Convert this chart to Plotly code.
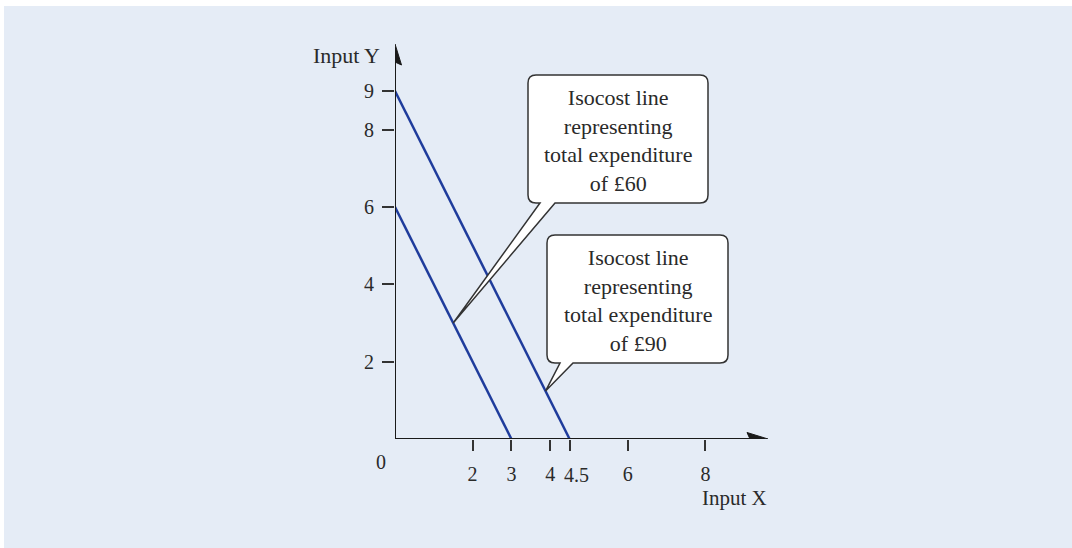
import plotly.graph_objects as go

# ---------------- data ----------------
budget_labels = ["£60", "£90"]
x_intercepts = [3, 4.5]          # Input X when all money spent on X
y_intercepts = [6, 9]            # Input Y when all money spent on Y
x_ticks = [2, 3, 4, 4.5, 6, 8]
x_tick_labels = ["2", "3", "4", "4.5", "6", "8"]
y_ticks = [2, 4, 6, 8, 9]
y_tick_labels = ["2", "4", "6", "8", "9"]
callout_texts = [
    "Isocost line<br>representing<br>total expenditure<br>of £60",
    "Isocost line<br>representing<br>total expenditure<br>of £90",
]
callout_tip_x = [1.5, 3.88]
callout_tip_y = [3.0, 1.24]

# ---------------- layout geometry ----------------
W, H = 1072, 548
ML, MR, MT, MB = 395, 289, 33, 109
XR = [0, 10]
YR = [0, 10.5]
PW = W - ML - MR
PH = H - MT - MB


def dx(px):
    return XR[0] + (px - ML) / PW * (XR[1] - XR[0])


def dy(py):
    return YR[0] + (H - MB - py) / PH * (YR[1] - YR[0])


def ppx(px):
    return (px - ML) / PW


def ppy(py):
    return (H - MB - py) / PH


LINE_COLOR = "#1f3c9c"
TEXT_COLOR = "#2a2a2a"
AXIS_COLOR = "#1a1a1a"
FONT = "Liberation Serif"

fig = go.Figure()

for xi, yi, lab in zip(x_intercepts, y_intercepts, budget_labels):
    fig.add_trace(go.Scatter(
        x=[0, xi], y=[yi, 0], mode="lines", name=lab,
        line=dict(color=LINE_COLOR, width=2.5),
        cliponaxis=False, hoverinfo="skip", showlegend=False,
    ))

shapes = []
# background panel
shapes.append(dict(type="rect", xref="paper", yref="paper",
                   x0=ppx(4), x1=ppx(1072), y0=ppy(548), y1=ppy(6),
                   fillcolor="#E5ECF6", line=dict(width=0), layer="below"))

# axes lines
shapes.append(dict(type="line", xref="x", yref="y", x0=0, y0=0, x1=dx(752), y1=0,
                   line=dict(color=AXIS_COLOR, width=2), layer="above"))
shapes.append(dict(type="line", xref="x", yref="y", x0=0, y0=0, x1=0, y1=dy(60),
                   line=dict(color=AXIS_COLOR, width=2), layer="above"))
# arrowheads
ax_path = (f"M{dx(768)},{dy(439)} L{dx(747)},{dy(432.5)} L{dx(750)},{dy(439)} "
           f"L{dx(747)},{dy(445.5)} Z")
ay_path = (f"M{dx(395)},{dy(44)} L{dx(388.5)},{dy(65)} L{dx(395)},{dy(62)} "
           f"L{dx(401.5)},{dy(65)} Z")
for p in (ax_path, ay_path):
    shapes.append(dict(type="path", xref="x", yref="y", path=p,
                       fillcolor=AXIS_COLOR, line=dict(color=AXIS_COLOR, width=1),
                       layer="above"))


def callout_path(x0, y0, x1, y1, b0, b1, tipx, tipy, r=8):
    return (
        f"M{dx(x0 + r)},{dy(y0)} L{dx(x1 - r)},{dy(y0)} "
        f"Q{dx(x1)},{dy(y0)} {dx(x1)},{dy(y0 + r)} "
        f"L{dx(x1)},{dy(y1 - r)} Q{dx(x1)},{dy(y1)} {dx(x1 - r)},{dy(y1)} "
        f"L{dx(b1)},{dy(y1)} L{tipx},{tipy} L{dx(b0)},{dy(y1)} "
        f"L{dx(x0 + r)},{dy(y1)} Q{dx(x0)},{dy(y1)} {dx(x0)},{dy(y1 - r)} "
        f"L{dx(x0)},{dy(y0 + r)} Q{dx(x0)},{dy(y0)} {dx(x0 + r)},{dy(y0)} Z"
    )


boxes = [
    (528, 75, 708, 203, 540, 555),
    (547, 235, 728, 363, 560, 573),
]

annotations = []
for (x0, y0, x1, y1, b0, b1), tx, ty, txt in zip(boxes, callout_tip_x, callout_tip_y, callout_texts):
    shapes.append(dict(type="path", xref="x", yref="y",
                       path=callout_path(x0, y0, x1, y1, b0, b1, tx, ty),
                       fillcolor="white", line=dict(color="#333333", width=1.5),
                       layer="above"))
    annotations.append(dict(
        x=ppx((x0 + x1) / 2), y=ppy((y0 + y1) / 2 + 1), xref="paper", yref="paper",
        text=txt, showarrow=False, xanchor="center", yanchor="middle",
        align="center", font=dict(family=FONT, size=22, color=TEXT_COLOR),
    ))

# the "4.5" tick label sits a little to the right of its tick in the original
shown_ticktext = [t if v != 4.5 else "" for v, t in zip(x_ticks, x_tick_labels)]
for v, t in zip(x_ticks, x_tick_labels):
    if v == 4.5:
        annotations.append(dict(
            x=v, y=ppy(475), xref="x", yref="paper", text=t, showarrow=False,
            xanchor="center", yanchor="middle", xshift=7,
            font=dict(family=FONT, size=20, color=TEXT_COLOR)))

annotations += [
    dict(x=ppx(381), y=ppy(462), xref="paper", yref="paper", text="0", showarrow=False,
         xanchor="center", yanchor="middle",
         font=dict(family=FONT, size=20, color=TEXT_COLOR)),
    dict(x=ppx(382), y=ppy(55), xref="paper", yref="paper", text="Input Y", showarrow=False,
         xanchor="right", yanchor="middle",
         font=dict(family=FONT, size=22, color=TEXT_COLOR)),
    dict(x=ppx(769), y=ppy(498), xref="paper", yref="paper", text="Input X", showarrow=False,
         xanchor="right", yanchor="middle",
         font=dict(family=FONT, size=21, color=TEXT_COLOR)),
]

fig.update_layout(
    width=W, height=H,
    margin=dict(l=ML, r=MR, t=MT, b=MB, pad=0),
    paper_bgcolor="white",
    plot_bgcolor="rgba(0,0,0,0)",
    shapes=shapes,
    annotations=annotations,
    showlegend=False,
    xaxis=dict(range=XR, showgrid=False, zeroline=False, showline=False,
               tickmode="array", tickvals=x_ticks, ticktext=shown_ticktext,
               ticks="outside", ticklen=11, tickwidth=1.5, tickcolor="#333333",
               tickangle=0, ticklabelstandoff=6,
               tickfont=dict(family=FONT, size=20, color=TEXT_COLOR),
               fixedrange=True),
    yaxis=dict(range=YR, showgrid=False, zeroline=False, showline=False,
               tickmode="array", tickvals=y_ticks, ticktext=y_tick_labels,
               ticks="outside", ticklen=12, tickwidth=1.5, tickcolor="#333333",
               ticklabelstandoff=4,
               tickfont=dict(family=FONT, size=20, color=TEXT_COLOR),
               fixedrange=True),
)

fig.write_html("out.html")
